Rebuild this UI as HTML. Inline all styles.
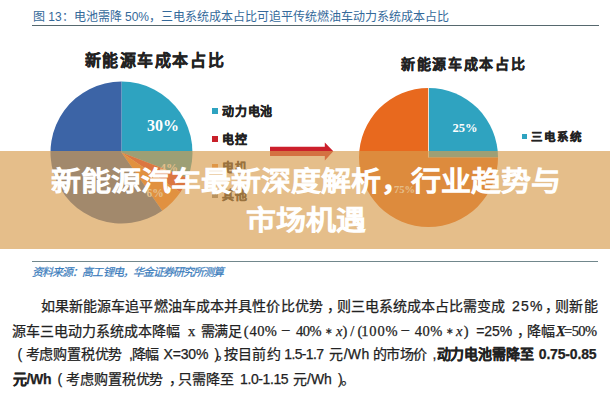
<!DOCTYPE html>
<html lang="zh-CN"><head><meta charset="utf-8">
<style>
html,body{margin:0;padding:0;}
body{width:610px;height:400px;overflow:hidden;background:#fff;position:relative;font-family:"Liberation Sans",sans-serif;}
.abs{position:absolute;white-space:nowrap;}
#cap{left:33px;top:8.5px;font-size:12px;color:#34699a;line-height:16px;}
#capline{left:32px;top:25px;width:567px;height:1px;background:#56686e;}
.ct{font-family:"Liberation Serif",serif;font-weight:bold;color:#222;}
#t1{left:84.5px;top:50.5px;font-size:16px;letter-spacing:1.6px;line-height:20px;-webkit-text-stroke:0.3px #222;}
#t2{left:401px;top:55.5px;font-size:14px;letter-spacing:1.65px;line-height:18px;-webkit-text-stroke:0.3px #222;}
.lg{font-family:"Liberation Serif",serif;font-weight:bold;color:#222;font-size:12px;letter-spacing:0.8px;line-height:14px;margin-top:1px;-webkit-text-stroke:0.3px #222;}
.sq{position:absolute;width:6px;height:6px;}
#src{left:32px;top:264.5px;font-size:11px;color:#3a7cbc;-webkit-text-stroke:0.2px #3a7cbc;font-style:italic;line-height:14px;letter-spacing:-0.92px;}
#srcline{left:32px;top:261px;width:566px;height:1px;background:#71878c;}
.sg{position:absolute;white-space:nowrap;font-size:14px;line-height:16px;color:#222;-webkit-text-stroke:0.25px #222;}
.sg.b{font-weight:bold;}
.sg.m{font-family:"Liberation Serif",serif;font-size:14.5px;}
.sg.ast{font-family:"Liberation Serif",serif;font-size:9px;margin-top:0px;}
.sg.mn{font-family:"Liberation Serif",serif;font-size:16.5px;margin-top:0px;}
#band{left:0;top:151px;width:610px;height:98px;background:rgba(216,157,78,0.66);}
#title{left:1px;top:161.8px;width:610px;text-align:center;font-size:30px;font-weight:normal;color:#fff;line-height:42.9px;white-space:normal;-webkit-text-stroke:1.5px #fff;transform:scaleY(0.92);transform-origin:0 0;}
</style></head><body>
<div class="abs" id="cap">图 13：电池需降 50%，三电系统成本占比可追平传统燃油车动力系统成本占比</div>
<div class="abs" id="capline"></div>
<div class="abs ct" id="t1">新能源车成本占比</div>
<div class="abs ct" id="t2">新能源车成本占比</div>
<svg class="abs" style="left:0;top:0" width="610" height="400" viewBox="0 0 610 400">
<path d="M121.50 152.50L121.50 81.50A71.00 71.00 0 0 1 187.78 177.94Z" fill="#2ea3c0"/>
<path d="M121.50 152.50L187.78 177.94A71.00 71.00 0 0 1 180.36 192.20Z" fill="#e0302a"/>
<path d="M121.50 152.50L180.36 192.20A71.00 71.00 0 0 1 162.22 210.66Z" fill="#f27c28"/>
<path d="M121.50 152.50L162.22 210.66A71.00 71.00 0 1 1 121.50 81.50Z" fill="#3c64a6"/>
<path d="M428.50 157.50L428.50 88.00A69.50 69.50 0 0 1 498.00 157.50Z" fill="#2fa3c0"/>
<path d="M428.50 157.50L498.00 157.50A69.50 69.50 0 1 1 428.50 88.00Z" fill="#e8691e"/>
<line x1="428.5" y1="88" x2="428.5" y2="157.5" stroke="#f0e0d0" stroke-width="1"/>
<text id="l30" x="147" y="131" font-family="Liberation Serif" font-weight="bold" font-size="16" fill="#fff">30%</text>
<text id="l4" x="160" y="172" font-family="Liberation Serif" font-weight="bold" font-size="12" fill="#fff">4%</text>
<text id="l6" x="146.5" y="197" font-family="Liberation Serif" font-weight="bold" font-size="11.5" fill="#fff">6%</text>
<text id="l25" x="452.5" y="132" font-family="Liberation Serif" font-weight="bold" font-size="12.5" fill="#fff">25%</text>
<text id="l75" x="394" y="192.5" font-family="Liberation Serif" font-weight="bold" font-size="10.5" fill="#fff">75%</text>
<path d="M270 146.8H324.8V142.5L333.3 151.3L324.8 160.4V156H270Z" fill="#cc1f2b"/>
</svg>
<div class="sq" style="left:212px;top:108px;background:#2ea3c0"></div>
<div class="abs lg" style="left:222px;top:104px">动力电池</div>
<div class="sq" style="left:212px;top:136px;background:#c8202a"></div>
<div class="abs lg" style="left:222px;top:132px">电控</div>
<div class="sq" style="left:212px;top:164px;background:#ec8a3a"></div>
<div class="abs lg" style="left:222px;top:160px">电机</div>
<div class="sq" style="left:212px;top:192px;background:#7f7f7f"></div>
<div class="abs lg" style="left:222px;top:188px">其他</div>
<div class="sq" style="left:522px;top:134px;width:5px;height:5px;background:#2ea3c0"></div>
<div class="abs lg" style="left:530.5px;top:128.5px;font-size:11.5px;letter-spacing:2.3px">三电系统</div>

<div class="abs" id="srcline"></div>
<div class="abs" id="src">资料来源：高工锂电，华金证券研究所测算</div>

<!--PARA-->
<span class="sg n" id="sg0" style="left:40.60px;top:298.20px;letter-spacing:0.118px">如果新能源车追平燃油车成本并具性价比优势</span>
<span class="sg n" id="sg1" style="left:327.00px;top:298.20px">，</span>
<span class="sg n" id="sg2" style="left:336.60px;top:298.20px">则三电系统成本占比需变成</span>
<span class="sg n" id="sg3" style="left:512.00px;top:298.20px;letter-spacing:1.250px">25%</span>
<span class="sg n" id="sg4" style="left:545.00px;top:298.20px">，</span>
<span class="sg n" id="sg5" style="left:555.00px;top:298.20px;letter-spacing:0.400px">则新能</span>
<span class="sg n" id="sg6" style="left:12.00px;top:322.50px">源车三电动力系统成本降幅</span>
<span class="sg m" id="sg7" style="left:188.00px;top:322.50px">x</span>
<span class="sg n" id="sg8" style="left:200.60px;top:322.50px;letter-spacing:-0.400px">需满足</span>
<span class="sg m" id="sg9" style="left:243.80px;top:322.50px">(</span>
<span class="sg m" id="sg10" style="left:249.60px;top:322.50px;letter-spacing:0.300px">40%</span>
<span class="sg mn" id="sg11" style="left:281.10px;top:322.50px">−</span>
<span class="sg m" id="sg12" style="left:296.00px;top:322.50px;letter-spacing:-0.500px">40%</span>
<span class="sg ast" id="sg13" style="left:325.00px;top:322.50px">∗</span>
<span class="sg m" id="sg14" style="left:336.10px;top:322.50px"><i>x</i></span>
<span class="sg m" id="sg15" style="left:342.40px;top:322.50px">)</span>
<span class="sg m" id="sg16" style="left:350.20px;top:322.50px">/</span>
<span class="sg m" id="sg17" style="left:357.50px;top:322.50px">(</span>
<span class="sg m" id="sg18" style="left:361.30px;top:322.50px;letter-spacing:0.799px">100%</span>
<span class="sg mn" id="sg19" style="left:400.40px;top:322.50px">−</span>
<span class="sg m" id="sg20" style="left:414.80px;top:322.50px;letter-spacing:0.500px">40%</span>
<span class="sg ast" id="sg21" style="left:446.30px;top:322.50px">∗</span>
<span class="sg m" id="sg22" style="left:455.90px;top:322.50px"><i>x</i></span>
<span class="sg m" id="sg23" style="left:463.70px;top:322.50px">)</span>
<span class="sg n" id="sg24" style="left:476.30px;top:322.50px;letter-spacing:-0.132px">=25%</span>
<span class="sg n" id="sg25" style="left:517.00px;top:322.50px">，</span>
<span class="sg n" id="sg26" style="left:526.80px;top:322.50px;letter-spacing:0.600px">降幅</span>
<span class="sg m" id="sg27" style="left:556.00px;top:322.50px"><b><i>X</i></b></span>
<span class="sg m" id="sg28" style="left:564.00px;top:322.50px;letter-spacing:-0.534px">=50%</span>
<span class="sg n" id="sg29" style="left:17.50px;top:346.30px">(</span>
<span class="sg n" id="sg30" style="left:25.70px;top:346.30px;letter-spacing:-0.234px">考虑购置税优势</span>
<span class="sg n" id="sg31" style="left:129.00px;top:346.30px">,</span>
<span class="sg n" id="sg32" style="left:132.00px;top:346.30px;letter-spacing:-1.200px">降幅</span>
<span class="sg n" id="sg33" style="left:163.60px;top:346.30px;letter-spacing:-0.200px">X=30%</span>
<span class="sg n" id="sg34" style="left:214.40px;top:346.30px">)</span>
<span class="sg n" id="sg35" style="left:216.00px;top:346.30px">。</span>
<span class="sg n" id="sg36" style="left:223.60px;top:346.30px;letter-spacing:0.366px">按目前约</span>
<span class="sg n" id="sg37" style="left:284.30px;top:346.30px;letter-spacing:-0.650px">1.5-1.7</span>
<span class="sg n" id="sg38" style="left:329.30px;top:346.30px;letter-spacing:0.334px">元/Wh</span>
<span class="sg n" id="sg39" style="left:372.60px;top:346.30px;letter-spacing:-0.466px">的市场价</span>
<span class="sg n" id="sg40" style="left:432.50px;top:346.30px">,</span>
<span class="sg b" id="sg41" style="left:436.50px;top:346.30px;letter-spacing:-0.017px">动力电池需降至</span>
<span class="sg b" id="sg42" style="left:538.80px;top:346.30px;letter-spacing:-0.175px">0.75-0.85</span>
<span class="sg b" id="sg43" style="left:13.00px;top:371.20px;letter-spacing:-0.399px">元/Wh</span>
<span class="sg n" id="sg44" style="left:57.40px;top:371.20px">(</span>
<span class="sg n" id="sg45" style="left:66.00px;top:371.20px;letter-spacing:-0.099px">考虑购置税优势</span>
<span class="sg n" id="sg46" style="left:168.50px;top:371.20px">，</span>
<span class="sg n" id="sg47" style="left:178.00px;top:371.20px;letter-spacing:-0.066px">只需降至</span>
<span class="sg n" id="sg48" style="left:240.00px;top:371.20px;letter-spacing:-0.398px">1.0-1.15</span>
<span class="sg n" id="sg49" style="left:293.00px;top:371.20px">元/Wh</span>
<span class="sg n" id="sg50" style="left:338.00px;top:371.20px">)</span>
<span class="sg n" id="sg51" style="left:340.50px;top:371.20px">。</span>
<!--/PARA-->

<div class="abs" id="band"></div>
<div class="abs" id="title"><span id="tl1">新能源汽车最新深度解析，行业趋势与</span><br><span id="tl2">市场机遇</span></div>
</body></html>
